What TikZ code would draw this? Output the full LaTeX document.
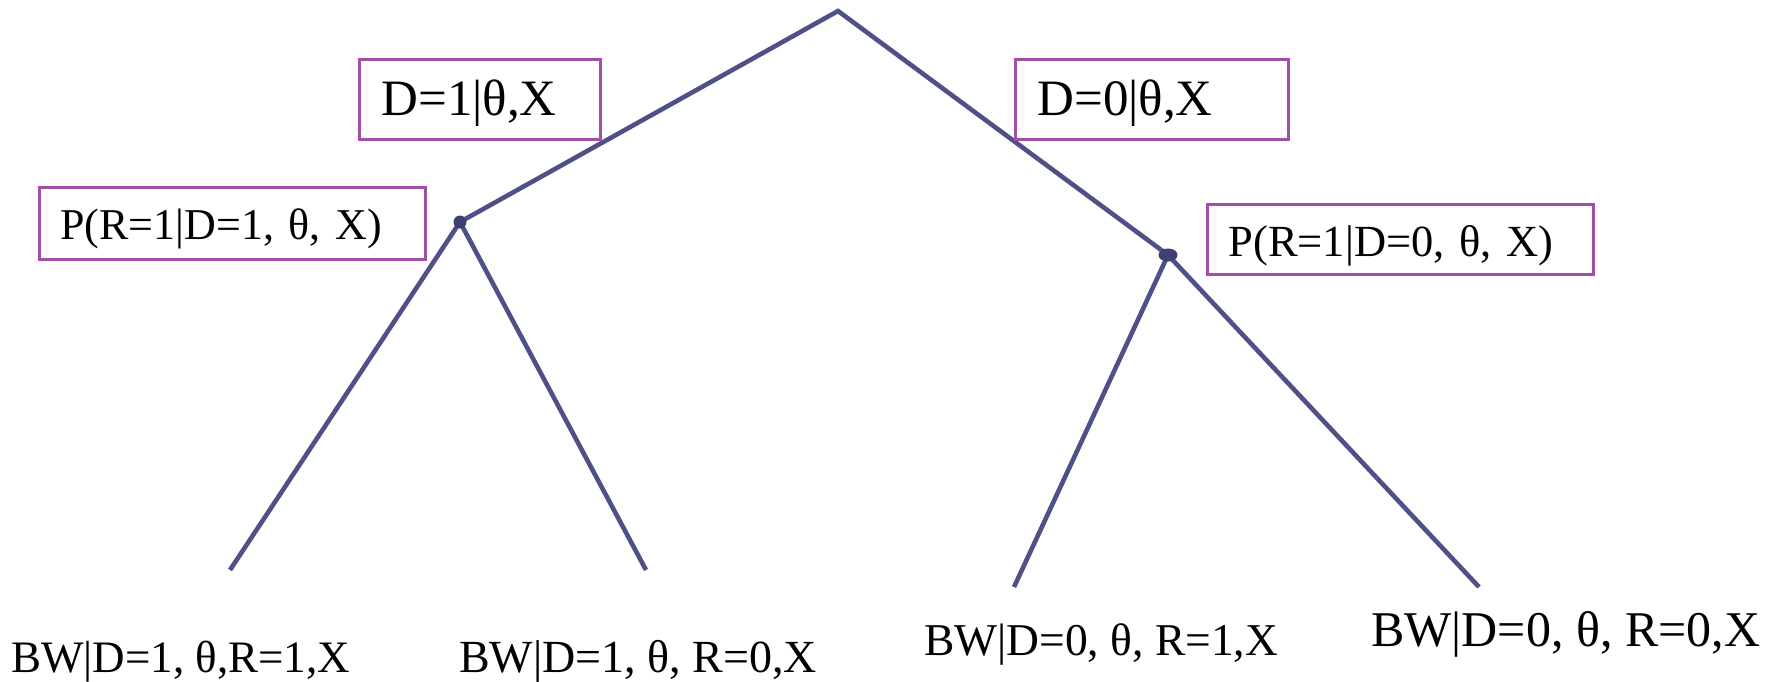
\documentclass[tikz,border=0pt]{standalone}
\usepackage{fontspec}
\setmainfont{Liberation Serif}
\definecolor{treeline}{HTML}{4F5088}
\definecolor{dotfill}{HTML}{3E3F72}
\definecolor{boxline}{HTML}{A24EA8}
\tikzset{
  edge/.style={draw=treeline, line width=4.6pt},
  probbox/.style={draw=boxline, line width=3pt, rectangle, anchor=north west, align=left, inner ysep=0pt},
  leaflabel/.style={anchor=base west, inner sep=0pt},
}
\begin{document}
\begin{tikzpicture}[x=1pt, y=-1pt]
\useasboundingbox (0,0) rectangle (1777,681);
% tree points
\coordinate (root) at (838,11);
\coordinate (L) at (460,222);
\coordinate (R) at (1168,255);
\coordinate (LL) at (230,570);
\coordinate (LR) at (646,570);
\coordinate (RL) at (1014,587);
\coordinate (RR) at (1479,587);
% edges
\draw[edge, line join=miter] (L) -- (root) -- (R);
\draw[edge] (LL) -- (L) -- (LR);
\draw[edge] (RL) -- (R) -- (RR);
% dots
\fill[dotfill] (L) circle (6.5);
\fill[dotfill] (R) ellipse (9.5 and 6.5);
% boxes
\node[probbox, inner xsep=22pt, text width=197pt, text height=56pt, text depth=24pt, font=\fontsize{51}{51}\selectfont] (b1) at (358,58) {D=1|θ,X};
\node[probbox, inner xsep=22pt, text width=229pt, text height=56pt, text depth=24pt, font=\fontsize{51}{51}\selectfont] (b2) at (1014,58) {D=0|θ,X};
\node[probbox, inner xsep=21pt, text width=344pt, text height=52pt, text depth=20pt, font=\fontsize{44}{44}\selectfont] (b3) at (38,186) {P(R=1|D=1, θ, X)};
\node[probbox, inner xsep=21pt, text width=344pt, text height=52pt, text depth=18pt, font=\fontsize{44.5}{44.5}\selectfont] (b4) at (1206,203) {P(R=1|D=0, θ, X)};
% leaf labels
\node[leaflabel, font=\fontsize{45}{45}\selectfont] (t1) at (11,672) {BW|D=1, θ,R=1,X};
\node[leaflabel, font=\fontsize{46}{46}\selectfont] (t2) at (459,672) {BW|D=1, θ, R=0,X};
\node[leaflabel, font=\fontsize{45.5}{45.5}\selectfont] (t3) at (924,655) {BW|D=0, θ, R=1,X};
\node[leaflabel, font=\fontsize{50}{50}\selectfont] (t4) at (1371,646) {BW|D=0, θ, R=0,X};
\end{tikzpicture}
\end{document}
